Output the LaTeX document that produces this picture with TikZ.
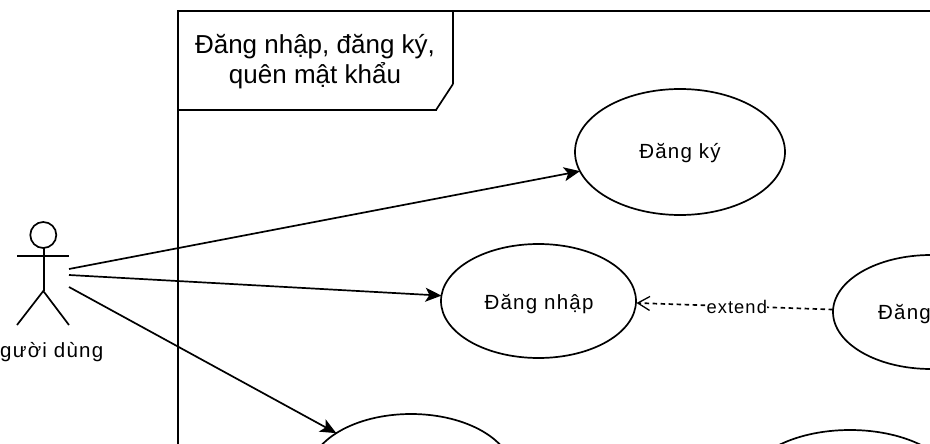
\documentclass[tikz,border=0pt]{standalone}
\usepackage{fontspec}
\setmainfont{Liberation Sans}
\newfontfamily\smallfont[LetterSpace=6]{Liberation Sans}
\usetikzlibrary{shapes.geometric,arrows.meta}
\tikzset{
  usecase/.style={draw=black,line width=1.7pt,ellipse,inner sep=0pt,outer sep=0pt,fill=white},
  lbl/.style={font=\smallfont\fontsize{20.5}{24}\selectfont,text=black,inner sep=0pt},
  extlbl/.style={font=\smallfont\fontsize{18.3}{22}\selectfont,text=black,fill=white,inner sep=0.5pt},
  ttl/.style={font=\fontsize{26}{30}\selectfont,text=black,align=center,inner sep=0pt},
  ln/.style={draw=black,line width=1.7pt},
  bar/.style={fill=black},
  assoc/.style={ln,-{Stealth[length=16pt,width=14pt,inset=4pt]}},
  ext/.style={ln,dash pattern=on 4.5pt off 3.5pt,-{Straight Barb[length=12pt,width=14pt,line width=1.3pt]}}
}
\begin{document}
\begin{tikzpicture}[x=1pt,y=-1pt]
\clip (0,0) rectangle (930,444);
\fill[white] (0,0) rectangle (930,444);
% frame
\fill[bar] (177,10) rectangle (179,444);
\fill[bar] (177,10) rectangle (930,12);
\fill[bar] (452,10) rectangle (454,84);
\draw[ln] (453,84) -- (436,110);
\fill[bar] (177,109) rectangle (437,111);
\node[ttl] (title) at (315,61.5) {Đăng nhập, đăng ký,\\quên mật khẩu};
% actor
\node[draw=black,line width=1.7pt,circle,minimum size=26pt,inner sep=0pt] (head) at (43.3,235) {};
\coordinate (hip) at (43.3,291);
\coordinate (footl) at (17,325);
\coordinate (footr) at (69,325);
\fill[bar] (42.5,248) rectangle (44.5,291);
\fill[bar] (17,255) rectangle (69,257);
\draw[ln] (footl) -- (hip) -- (footr);
\node[lbl,anchor=base west] (actorlabel) at (0,357) {gười dùng};
\coordinate (a1) at (69,269);
\coordinate (a2) at (69,275);
\coordinate (a3) at (69,287);
% use cases
\node[usecase,minimum width=210pt,minimum height=126pt] (dangky) at (680,152) {};
\node[lbl] (dangkyt) at (680,153.5) {Đăng ký};
\node[usecase,minimum width=195pt,minimum height=114pt] (dangnhap) at (538.5,301) {};
\node[lbl] (dangnhapt) at (539,304.5) {Đăng nhập};
\node[usecase,minimum width=196pt,minimum height=114pt] (dangx) at (931,312) {};
\node[lbl,anchor=west] (dangxt) at (878,314.5) {Đăng};
\node[usecase,minimum width=204pt,minimum height=120pt] (bottoml) at (411,474) {};
\node[usecase,minimum width=210pt,minimum height=114pt] (bottomr) at (850,487) {};
% connectors
\draw[assoc] (a1) -- (dangky);
\draw[assoc] (a2) -- (dangnhap);
\draw[assoc] (a3) -- (bottoml);
\coordinate (extfrom) at (833,309.5);
\coordinate (extto) at (636.5,303);
\draw[ext] (extfrom) -- node[extlbl,pos=0.49,yshift=-1pt] (extlabel) {extend} (extto);
\end{tikzpicture}
\end{document}
